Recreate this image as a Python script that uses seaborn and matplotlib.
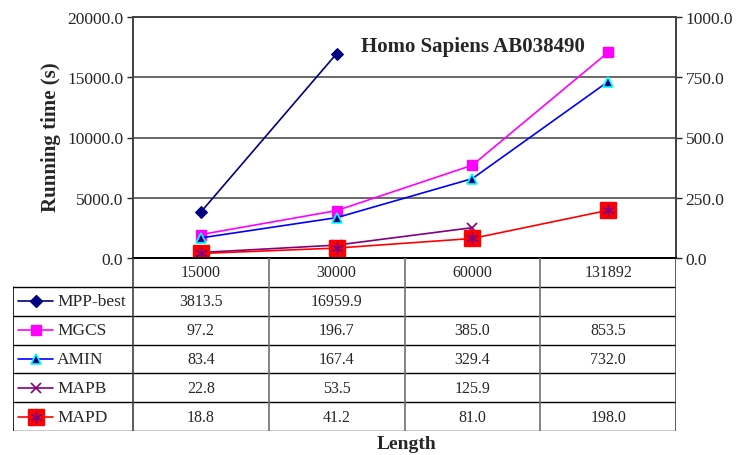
import numpy as np
import pandas as pd
import matplotlib
matplotlib.use("Agg")
import matplotlib.pyplot as plt
import seaborn as sns

# ---- data ----
lengths = ["15000", "30000", "60000", "131892"]
series_names = ["MPP-best", "MGCS", "AMIN", "MAPB", "MAPD"]
mpp_best = [3813.5, 16959.9, np.nan, np.nan]
mgcs = [97.2, 196.7, 385.0, 853.5]
amin = [83.4, 167.4, 329.4, 732.0]
mapb = [22.8, 53.5, 125.9, np.nan]
mapd = [18.8, 41.2, 81.0, 198.0]
left_ticks = [0, 5000, 10000, 15000, 20000]
right_ticks = [0, 250, 500, 750, 1000]

sns.set_style("white")
plt.rcParams["font.family"] = ["Liberation Serif", "DejaVu Serif"]

W, H = 747, 456
fig = plt.figure(figsize=(W / 100, H / 100), dpi=100)

# pixel layout
px_l, px_r, px_t, px_b = 133, 676, 18, 259
tab_l, tab_b = 13, 432
ax = fig.add_axes([px_l / W, 1 - px_b / H, (px_r - px_l) / W, (px_b - px_t) / H])
ax2 = ax.twinx()

x = np.arange(len(lengths))
df = pd.DataFrame({"x": x, "MPP-best": mpp_best, "MGCS": mgcs, "AMIN": amin,
                   "MAPB": mapb, "MAPD": mapd})

styles = {
    "MPP-best": dict(color="#000080", marker="D", ms=6, mfc="#000080", mec="#000080"),
    "MGCS": dict(color="#FF00FF", marker="s", ms=7, mfc="#FF00FF", mec="#FF00FF"),
    "AMIN": dict(color="#0000FF", marker="^", ms=7, mfc="#000080", mec="#00FFFF", mew=1.2),
    "MAPB": dict(color="#800080", marker="x", ms=7, mfc="#800080", mec="#800080", mew=1.2),
    "MAPD": dict(color="#FF0000", marker="s", ms=11, mfc="#FF0000", mec="#FF0000"),
}

sns.lineplot(data=df, x="x", y="MPP-best", ax=ax, color=styles["MPP-best"]["color"],
             marker="D", markersize=6, markerfacecolor="#000080",
             markeredgecolor="#000080", lw=1.2, zorder=5)
for name in ["MGCS", "AMIN", "MAPB", "MAPD"]:
    st = styles[name]
    sns.lineplot(data=df, x="x", y=name, ax=ax2, color=st["color"], marker=st["marker"],
                 markersize=st["ms"], markerfacecolor=st["mfc"],
                 markeredgecolor=st["mec"], markeredgewidth=st.get("mew", 1.0), lw=1.2)
# star overlay on MAPD markers
ax2.plot(df["x"], df["MAPD"], ls="none", marker=(6, 2, 0), ms=9, mec="#800080", mew=1.0)

for a in (ax, ax2):
    a.set_xlim(-0.5, len(lengths) - 0.5)
    a.set_xlabel("")
    a.set_ylabel("")
    a.set_xticks([])
ax.set_ylim(0, 20000)
ax2.set_ylim(0, 1000)
ax.set_yticks(left_ticks)
ax.set_yticklabels([f"{v:.1f}" for v in left_ticks], fontsize=12.5)
ax2.set_yticks(right_ticks)
ax2.set_yticklabels([f"{v:.1f}" for v in right_ticks], fontsize=12.5)
ax.tick_params(axis="y", direction="out", length=4, width=1, pad=3, left=True)
ax2.tick_params(axis="y", direction="out", length=4, width=1, pad=3, right=True)
ax.yaxis.grid(True, color="#404040", lw=1.1)
ax.set_axisbelow(True)
for a in (ax, ax2):
    for s in ["left", "right", "top"]:
        a.spines[s].set_color("#404040")
        a.spines[s].set_linewidth(1.2)
    a.spines["bottom"].set_color("black")
    a.spines["bottom"].set_linewidth(1.2)

ax.text((473 - px_l) / (px_r - px_l), (px_b - 47) / (px_b - px_t), "Homo Sapiens AB038490",
        transform=ax.transAxes, ha="center", va="center", fontsize=15, fontweight="bold")
fig.text(51 / W, 1 - 137 / H, "Running time (s)", rotation=90, ha="center", va="center",
         fontsize=15, fontweight="bold")
fig.text(407 / W, 1 - 445 / H, "Length", ha="center", va="center",
         fontsize=14, fontweight="bold")

# ---- data table below the plot ----
tab = fig.add_axes([tab_l / W, 1 - tab_b / H, (px_r - tab_l) / W, (tab_b - px_b) / H])
tab.set_xlim(tab_l, px_r)
tab.set_ylim(tab_b, px_b)
tab.axis("off")
col_w = (px_r - px_l) / len(lengths)
row_h = (tab_b - px_b) / (len(series_names) + 1)
col_edges = [px_l + i * col_w for i in range(len(lengths) + 1)]
row_edges = [px_b + i * row_h for i in range(len(series_names) + 2)]

# horizontal lines
tab.plot([px_l, px_r], [row_edges[0]] * 2, color="black", lw=1.2)
for yy in row_edges[1:]:
    tab.plot([tab_l, px_r], [yy, yy], color="black", lw=1.0)
# vertical lines
tab.plot([tab_l, tab_l], [row_edges[1], row_edges[-1]], color="black", lw=1.2)
for i, xx in enumerate(col_edges):
    c = "#404040" if i in (0, len(col_edges) - 1) else "#707070"
    tab.plot([xx, xx], [row_edges[0], row_edges[-1]], color=c, lw=1.2)

for i, lab in enumerate(lengths):
    tab.text(col_edges[i] + col_w / 2, (row_edges[0] + row_edges[1]) / 2, lab,
             ha="center", va="center", fontsize=11.5)

values = [mpp_best, mgcs, amin, mapb, mapd]
for r, (name, vals) in enumerate(zip(series_names, values)):
    yc = (row_edges[r + 1] + row_edges[r + 2]) / 2
    st = styles[name]
    tab.plot([18, 53], [yc, yc], color=st["color"], lw=1.2)
    tab.plot([35.5], [yc], marker=st["marker"], ms=st["ms"], mfc=st["mfc"],
             mec=st["mec"], mew=st.get("mew", 1.0), color=st["color"])
    if name == "MAPD":
        tab.plot([35.5], [yc], marker=(6, 2, 0), ms=9, mec="#800080", mew=1.0)
    tab.text(57, yc, name, ha="left", va="center", fontsize=12.5)
    for c, v in enumerate(vals):
        if not np.isnan(v):
            tab.text(col_edges[c] + col_w / 2, yc, f"{v:.1f}", ha="center",
                     va="center", fontsize=11.5)

fig.savefig("out.png", dpi=100)
